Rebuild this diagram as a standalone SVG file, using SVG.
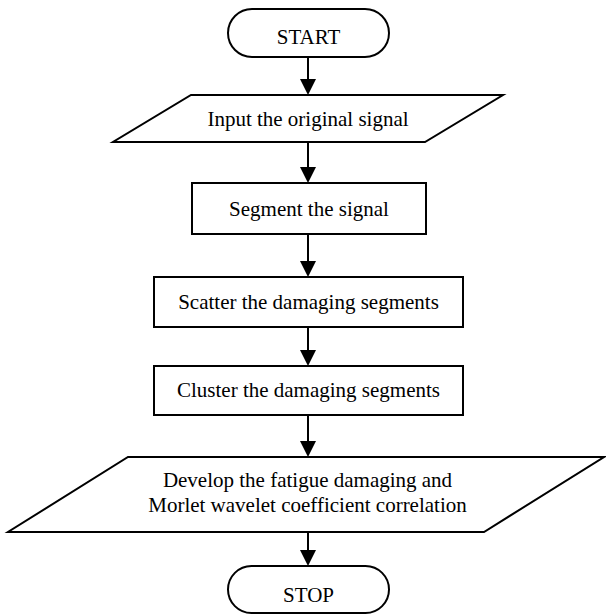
<svg xmlns="http://www.w3.org/2000/svg" width="606" height="615" viewBox="0 0 606 615">
<style>
.s{fill:#fff;stroke:#000;stroke-width:2}
.t{font-family:"Liberation Serif","Times New Roman",serif;font-size:21px;fill:#000;text-anchor:middle}
.l{stroke:#000;stroke-width:2;fill:none}
.h{fill:#000}
</style>
<rect width="606" height="615" fill="#fff"/>
<g id="connectors">
<path class="l" d="M308,57 V80"/>
<path class="h" d="M300,79 H316 L308,95 Z"/>
<path class="l" d="M308,142 V168"/>
<path class="h" d="M300,167 H316 L308,183 Z"/>
<path class="l" d="M308,234 V262"/>
<path class="h" d="M300,261 H316 L308,277 Z"/>
<path class="l" d="M308,327 V351"/>
<path class="h" d="M300,350 H316 L308,366 Z"/>
<path class="l" d="M308,415 V442"/>
<path class="h" d="M300,441 H316 L308,457 Z"/>
<path class="l" d="M308,532 V551"/>
<path class="h" d="M300,550 H316 L308,566 Z"/>
</g>
<g id="start">
<rect class="s" x="228" y="9" width="161" height="48" rx="24" ry="24"/>
<text class="t" x="308.5" y="44">START</text>
</g>
<g id="input">
<polygon class="s" points="191,95 503,95 425,142 113,142"/>
<text class="t" x="308" y="126">Input the original signal</text>
</g>
<g id="segment">
<rect class="s" x="192" y="183" width="234" height="51"/>
<text class="t" x="309" y="216">Segment the signal</text>
</g>
<g id="scatter">
<rect class="s" x="154" y="277" width="309" height="50"/>
<text class="t" x="308.5" y="309">Scatter the damaging segments</text>
</g>
<g id="cluster">
<rect class="s" x="154" y="366" width="309" height="49"/>
<text class="t" x="308.5" y="397">Cluster the damaging segments</text>
</g>
<g id="develop">
<polygon class="s" points="128,457 604,457 484,532 8,532"/>
<text class="t" x="307.5" y="487">Develop the fatigue damaging and</text>
<text class="t" x="307.5" y="512">Morlet wavelet coefficient correlation</text>
</g>
<g id="stop">
<rect class="s" x="228" y="566" width="161" height="47" rx="23.5" ry="23.5"/>
<text class="t" x="308.5" y="602">STOP</text>
</g>
</svg>
